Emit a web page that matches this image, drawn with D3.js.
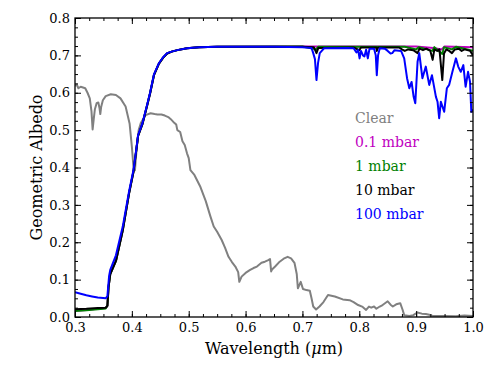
<!DOCTYPE html>
<html>
<head>
<meta charset="utf-8">
<script src="https://cdn.jsdelivr.net/npm/d3@7"></script>
<style>
  body { margin: 0; background: #fff; }
  text { font-family: "DejaVu Serif", "Liberation Serif", serif; }
</style>
</head>
<body>
<div id="chart"></div>
<script>
var w = 498;
var h = 374;
var margin = {left: 75, right: 25, top: 18, bottom: 57};
var serif = "'DejaVu Serif', 'Liberation Serif', serif";

// series labels and colours (legend order)
var seriesNames = ["Clear", "0.1 mbar", "1 mbar", "10 mbar", "100 mbar"];
var seriesColors = ["#808080", "#bf00bf", "#008000", "#000000", "#0000ff"];

var xTicks = [0.3, 0.4, 0.5, 0.6, 0.7, 0.8, 0.9, 1.0];
var yTicks = [0.0, 0.1, 0.2, 0.3, 0.4, 0.5, 0.6, 0.7, 0.8];

// clear atmosphere
var clearWl = [0.300, 0.303, 0.306, 0.310, 0.314, 0.318, 0.322, 0.326, 0.329, 0.331, 0.333, 0.335, 0.338, 0.341, 0.343, 0.3445, 0.346, 0.349, 0.354, 0.363, 0.372, 0.380, 0.389, 0.396, 0.400, 0.403, 0.4055, 0.407, 0.409, 0.412, 0.416, 0.424, 0.433, 0.440, 0.445, 0.452, 0.458, 0.464, 0.468, 0.473, 0.478, 0.480, 0.485, 0.489, 0.493, 0.497, 0.500, 0.503, 0.510, 0.520, 0.530, 0.538, 0.544, 0.550, 0.558, 0.564, 0.570, 0.576, 0.582, 0.587, 0.589, 0.593, 0.600, 0.608, 0.614, 0.620, 0.628, 0.634, 0.640, 0.643, 0.645, 0.647, 0.652, 0.660, 0.667, 0.674, 0.680, 0.686, 0.690, 0.692, 0.697, 0.701, 0.707, 0.713, 0.716, 0.719, 0.724, 0.730, 0.737, 0.745, 0.757, 0.771, 0.783, 0.790, 0.798, 0.806, 0.812, 0.817, 0.821, 0.826, 0.830, 0.836, 0.841, 0.850, 0.855, 0.859, 0.865, 0.872, 0.876, 0.879, 0.888, 0.895, 0.902, 0.910, 0.917, 0.923, 0.929, 0.950, 0.970, 0.985, 1.000];
var clearAlb = [0.618, 0.622, 0.612, 0.616, 0.614, 0.612, 0.600, 0.585, 0.550, 0.502, 0.530, 0.556, 0.572, 0.574, 0.560, 0.543, 0.562, 0.580, 0.591, 0.596, 0.594, 0.585, 0.563, 0.518, 0.456, 0.398, 0.393, 0.425, 0.457, 0.500, 0.520, 0.540, 0.545, 0.543, 0.542, 0.542, 0.539, 0.535, 0.530, 0.522, 0.515, 0.500, 0.495, 0.470, 0.460, 0.438, 0.425, 0.393, 0.380, 0.350, 0.310, 0.270, 0.242, 0.228, 0.206, 0.185, 0.161, 0.147, 0.135, 0.120, 0.094, 0.108, 0.118, 0.126, 0.131, 0.135, 0.145, 0.148, 0.152, 0.155, 0.122, 0.128, 0.135, 0.148, 0.156, 0.161, 0.157, 0.145, 0.115, 0.077, 0.094, 0.075, 0.072, 0.070, 0.050, 0.028, 0.020, 0.028, 0.040, 0.059, 0.055, 0.047, 0.045, 0.040, 0.032, 0.027, 0.019, 0.028, 0.025, 0.028, 0.022, 0.028, 0.032, 0.042, 0.033, 0.028, 0.034, 0.037, 0.020, 0.005, 0.003, 0.005, 0.012, 0.009, 0.008, 0.006, 0.003, 0.003, 0.002, 0.004, 0.003];

// 0.1 mbar haze
var mbar01Wl = [0.300, 0.320, 0.340, 0.354, 0.357, 0.359, 0.362, 0.372, 0.384, 0.395, 0.403, 0.407, 0.411, 0.4185, 0.4275, 0.432, 0.439, 0.4476, 0.455, 0.462, 0.470, 0.480, 0.497, 0.518, 0.550, 0.700, 0.900, 0.930, 0.945, 0.950, 1.000];
var mbar01Alb = [0.017, 0.019, 0.022, 0.024, 0.030, 0.080, 0.115, 0.150, 0.232, 0.330, 0.390, 0.437, 0.485, 0.516, 0.570, 0.598, 0.648, 0.678, 0.694, 0.705, 0.710, 0.714, 0.719, 0.722, 0.723, 0.724, 0.724, 0.720, 0.716, 0.724, 0.722];

// 1 mbar haze
var mbar1Wl = [0.300, 0.320, 0.340, 0.354, 0.357, 0.359, 0.362, 0.372, 0.384, 0.395, 0.403, 0.407, 0.411, 0.4185, 0.4275, 0.432, 0.439, 0.4476, 0.455, 0.462, 0.470, 0.480, 0.497, 0.518, 0.550, 0.700, 0.724, 0.728, 0.880, 0.900, 0.905, 0.929, 0.932, 0.946, 0.949, 0.963, 0.970, 1.000];
var mbar1Alb = [0.016, 0.018, 0.021, 0.023, 0.030, 0.080, 0.115, 0.150, 0.232, 0.330, 0.390, 0.437, 0.485, 0.516, 0.570, 0.598, 0.648, 0.678, 0.694, 0.705, 0.710, 0.714, 0.719, 0.722, 0.723, 0.724, 0.716, 0.723, 0.723, 0.716, 0.722, 0.712, 0.722, 0.704, 0.722, 0.716, 0.723, 0.712];

// 10 mbar haze
var mbar10Wl = [0.300, 0.320, 0.340, 0.354, 0.357, 0.359, 0.362, 0.372, 0.384, 0.395, 0.403, 0.407, 0.411, 0.4185, 0.4275, 0.432, 0.439, 0.4476, 0.455, 0.462, 0.470, 0.480, 0.497, 0.518, 0.550, 0.700, 0.720, 0.7247, 0.728, 0.790, 0.800, 0.803, 0.830, 0.8308, 0.833, 0.870, 0.875, 0.880, 0.886, 0.895, 0.9025, 0.906, 0.912, 0.918, 0.925, 0.929, 0.932, 0.937, 0.941, 0.946, 0.949, 0.953, 0.958, 0.963, 0.968, 0.975, 0.980, 0.985, 0.990, 0.995, 1.000];
var mbar10Alb = [0.021, 0.022, 0.024, 0.025, 0.030, 0.080, 0.115, 0.150, 0.232, 0.330, 0.390, 0.437, 0.485, 0.516, 0.570, 0.598, 0.648, 0.678, 0.694, 0.705, 0.710, 0.714, 0.719, 0.722, 0.723, 0.723, 0.722, 0.706, 0.720, 0.721, 0.714, 0.721, 0.721, 0.712, 0.721, 0.721, 0.716, 0.712, 0.716, 0.714, 0.706, 0.718, 0.714, 0.718, 0.712, 0.688, 0.716, 0.712, 0.716, 0.634, 0.705, 0.716, 0.712, 0.706, 0.716, 0.718, 0.712, 0.716, 0.714, 0.712, 0.700];

// 100 mbar haze
var mbar100Wl = [0.300, 0.310, 0.320, 0.330, 0.340, 0.354, 0.357, 0.360, 0.362, 0.372, 0.384, 0.395, 0.403, 0.407, 0.411, 0.4185, 0.4275, 0.432, 0.439, 0.4476, 0.455, 0.462, 0.470, 0.480, 0.497, 0.518, 0.550, 0.600, 0.650, 0.700, 0.716, 0.719, 0.722, 0.7247, 0.7275, 0.7305, 0.734, 0.738, 0.780, 0.790, 0.795, 0.798, 0.8005, 0.803, 0.8065, 0.809, 0.812, 0.815, 0.818, 0.826, 0.829, 0.8308, 0.833, 0.836, 0.845, 0.850, 0.855, 0.858, 0.862, 0.8735, 0.879, 0.884, 0.888, 0.892, 0.8956, 0.8985, 0.9025, 0.9055, 0.911, 0.917, 0.923, 0.9278, 0.9348, 0.9376, 0.9405, 0.9435, 0.9493, 0.954, 0.958, 0.9638, 0.970, 0.974, 0.9785, 0.983, 0.987, 0.9913, 0.9948, 0.997, 1.000];
var mbar100Alb = [0.066, 0.062, 0.058, 0.055, 0.052, 0.050, 0.056, 0.110, 0.126, 0.165, 0.242, 0.335, 0.395, 0.440, 0.487, 0.518, 0.572, 0.600, 0.650, 0.679, 0.695, 0.706, 0.710, 0.714, 0.719, 0.722, 0.723, 0.723, 0.723, 0.722, 0.720, 0.706, 0.690, 0.634, 0.680, 0.706, 0.712, 0.719, 0.720, 0.719, 0.708, 0.714, 0.692, 0.712, 0.700, 0.697, 0.715, 0.692, 0.718, 0.718, 0.700, 0.647, 0.700, 0.719, 0.718, 0.712, 0.705, 0.706, 0.714, 0.712, 0.692, 0.639, 0.612, 0.629, 0.589, 0.572, 0.683, 0.706, 0.639, 0.670, 0.621, 0.647, 0.589, 0.576, 0.532, 0.576, 0.549, 0.612, 0.621, 0.656, 0.692, 0.670, 0.656, 0.674, 0.616, 0.656, 0.629, 0.549, 0.555];

var seriesWl = [clearWl, mbar01Wl, mbar1Wl, mbar10Wl, mbar100Wl];
var seriesAlb = [clearAlb, mbar01Alb, mbar1Alb, mbar10Alb, mbar100Alb];

var svg = d3.select("#chart")
            .append("svg")
            .attr("width", w)
            .attr("height", h)
            .style("font-family", serif);

var xScale = d3.scaleLinear()
    .domain([0.3, 1.0])
    .range([margin.left, w - margin.right]);
var yScale = d3.scaleLinear()
    .domain([0, 0.8])
    .range([h - margin.bottom, margin.top]);

// clip the curves to the axes box
svg.append("clipPath")
    .attr("id", "clip")
    .append("rect")
    .attr("x", margin.left)
    .attr("y", margin.top)
    .attr("width", w - margin.left - margin.right)
    .attr("height", h - margin.top - margin.bottom);

var line = d3.line()
    .x((d) => xScale(d[0]))
    .y((d) => yScale(d[1]));

var plot = svg.append("g").attr("clip-path", "url(#clip)");
seriesNames.forEach((name, i) => {
    var pts = seriesWl[i].map((wl, j) => [wl, seriesAlb[i][j]]);
    plot.append("path")
        .datum(pts)
        .attr("fill", "none")
        .attr("stroke", seriesColors[i])
        .attr("stroke-width", 2)
        .attr("stroke-linejoin", "round")
        .attr("d", line);
});

// AXES - ticks point inward on all four sides
var xMinor = d3.range(0.3, 1.0001, 0.025);
var yMinor = d3.range(0, 0.8001, 0.025);
var fmt = d3.format(".1f");

function styleAxis(g) {
    g.attr("font-family", serif);
    g.select(".domain").remove();
    g.selectAll("line").attr("stroke", "#000").attr("stroke-width", 1);
    g.selectAll("text")
        .attr("font-size", 13)
        .attr("fill", "#000");
}

svg.append("g")
    .attr("transform", "translate(0," + (h - margin.bottom) + ")")
    .call(d3.axisBottom(xScale).tickValues(xMinor).tickSize(-3).tickFormat(""))
    .call(styleAxis);
svg.append("g")
    .attr("transform", "translate(0," + (h - margin.bottom) + ")")
    .call(d3.axisBottom(xScale).tickValues(xTicks).tickSize(-6).tickPadding(6).tickFormat(fmt))
    .call(styleAxis);
svg.append("g")
    .attr("transform", "translate(0," + margin.top + ")")
    .call(d3.axisTop(xScale).tickValues(xMinor).tickSize(-3).tickFormat(""))
    .call(styleAxis);
svg.append("g")
    .attr("transform", "translate(0," + margin.top + ")")
    .call(d3.axisTop(xScale).tickValues(xTicks).tickSize(-6).tickFormat(""))
    .call(styleAxis);

svg.append("g")
    .attr("transform", "translate(" + margin.left + ",0)")
    .call(d3.axisLeft(yScale).tickValues(yMinor).tickSize(-3).tickFormat(""))
    .call(styleAxis);
svg.append("g")
    .attr("transform", "translate(" + margin.left + ",0)")
    .call(d3.axisLeft(yScale).tickValues(yTicks).tickSize(-6).tickPadding(5).tickFormat(fmt))
    .call(styleAxis);
svg.append("g")
    .attr("transform", "translate(" + (w - margin.right) + ",0)")
    .call(d3.axisRight(yScale).tickValues(yMinor).tickSize(-3).tickFormat(""))
    .call(styleAxis);
svg.append("g")
    .attr("transform", "translate(" + (w - margin.right) + ",0)")
    .call(d3.axisRight(yScale).tickValues(yTicks).tickSize(-6).tickFormat(""))
    .call(styleAxis);

// frame
svg.append("rect")
    .attr("x", margin.left)
    .attr("y", margin.top)
    .attr("width", w - margin.left - margin.right)
    .attr("height", h - margin.top - margin.bottom)
    .attr("fill", "none")
    .attr("stroke", "#000")
    .attr("stroke-width", 1.3);

// axis titles
svg.append("text")
    .attr("x", (margin.left + w - margin.right) / 2)
    .attr("y", 354)
    .attr("text-anchor", "middle")
    .attr("font-size", 16)
    .html("Wavelength (<tspan font-style='italic'>μ</tspan>m)");
svg.append("text")
    .attr("transform", "translate(42," + ((margin.top + h - margin.bottom) / 2) + ") rotate(-90)")
    .attr("text-anchor", "middle")
    .attr("font-size", 16)
    .text("Geometric Albedo");

// legend
svg.selectAll(".legend")
    .data(seriesNames)
    .enter()
    .append("text")
    .attr("class", "legend")
    .attr("x", 355)
    .attr("y", (d, i) => 123 + i * 24)
    .attr("font-size", 14)
    .attr("fill", (d, i) => seriesColors[i])
    .text((d) => d);
</script>
</body>
</html>
